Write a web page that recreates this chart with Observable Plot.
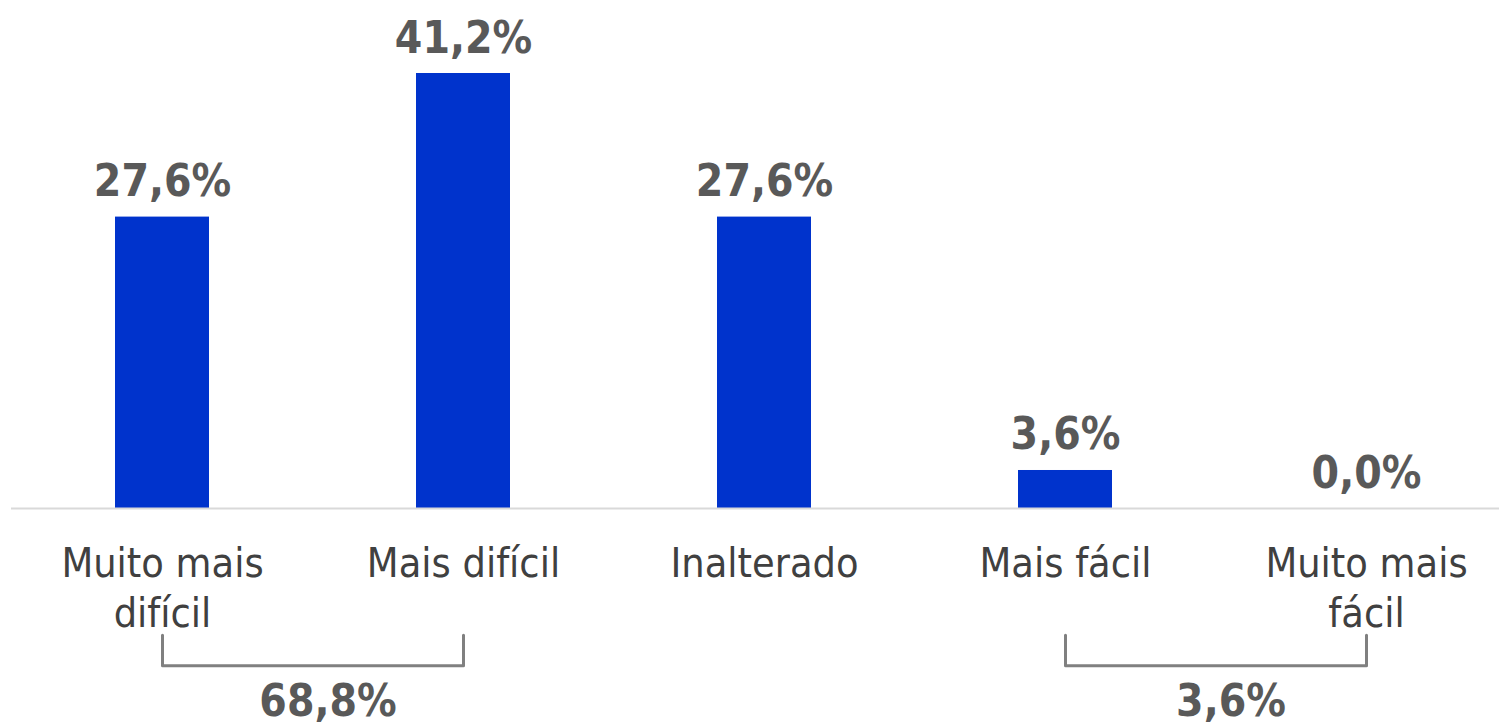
<!DOCTYPE html>
<html>
<head>
<meta charset="utf-8">
<script src="https://cdn.jsdelivr.net/npm/d3@7"></script>
<script src="https://cdn.jsdelivr.net/npm/@observablehq/plot@0.6"></script>
<style>
  html, body { margin: 0; padding: 0; background: #ffffff; }
  #chart svg { display: block; }
</style>
</head>
<body>
<div id="chart"></div>
<script>
// ---- data ----
const categories = ["Muito mais difícil", "Mais difícil", "Inalterado", "Mais fácil", "Muito mais fácil"];
const categoryLabels = ["Muito mais\ndifícil", "Mais difícil", "Inalterado", "Mais fácil", "Muito mais\nfácil"];
const values = [27.6, 41.2, 27.6, 3.6, 0.0];
const groupFrom = ["Muito mais difícil", "Mais fácil"];
const groupTo = ["Mais difícil", "Muito mais fácil"];
const groupTotals = [68.8, 3.6];

const fmt = v => v.toFixed(1).replace(".", ",") + "%";

const bars = categories.map((c, i) => ({cat: c, label: categoryLabels[i], value: values[i]}));
const groups = groupFrom.map((f, i) => ({from: f, to: groupTo[i], total: groupTotals[i]}));

// ---- layout ----
const W = 1499, H = 725;
const xRange = [11.5, 1516.5];
const step = (xRange[1] - xRange[0]) / categories.length;
const bracketTop = -12.0, bracketBottom = -14.9; // below baseline, in value units
const font = "'DejaVu Sans Condensed', 'DejaVu Sans', sans-serif";

const bracketPaths = groups.flatMap((g, i) => [
  {g: i, x: g.from, y: bracketTop},
  {g: i, x: g.from, y: bracketBottom},
  {g: i, x: g.to, y: bracketBottom},
  {g: i, x: g.to, y: bracketTop}
]);

const chart = Plot.plot({
  width: W,
  height: H,
  marginLeft: 11,
  marginRight: 0,
  marginTop: 0,
  marginBottom: 0,
  style: {fontFamily: font, background: "#ffffff"},
  x: {domain: categories, range: xRange, paddingInner: 0.688, paddingOuter: 0.344, axis: null},
  y: {domain: [0, 41.2], range: [508, 73], axis: null},
  marks: [
    Plot.barY(bars, {x: "cat", y: "value", fill: "#0033cc"}),
    Plot.ruleY([0], {stroke: "#d9d9d9", strokeWidth: 2}),
    Plot.text(bars, {
      x: "cat", y: "value", text: d => fmt(d.value),
      lineAnchor: "bottom", dy: -21,
      fontSize: 44, fontWeight: "bold", fill: "#595959"
    }),
    Plot.text(bars, {
      x: "cat", y: 0, text: "label",
      lineAnchor: "top", dy: 34, lineHeight: 1.2,
      fontSize: 41, fill: "#404040"
    }),
    Plot.line(bracketPaths, {
      x: "x", y: "y", z: "g",
      stroke: "#808080", strokeWidth: 3, curve: "linear"
    }),
    Plot.text(groups, {
      x: "from", y: bracketBottom, text: d => fmt(d.total),
      dx: step / 2 + 15, dy: 50, lineAnchor: "bottom",
      fontSize: 44, fontWeight: "bold", fill: "#595959"
    })
  ]
});

document.getElementById("chart").appendChild(chart);
</script>
</body>
</html>
